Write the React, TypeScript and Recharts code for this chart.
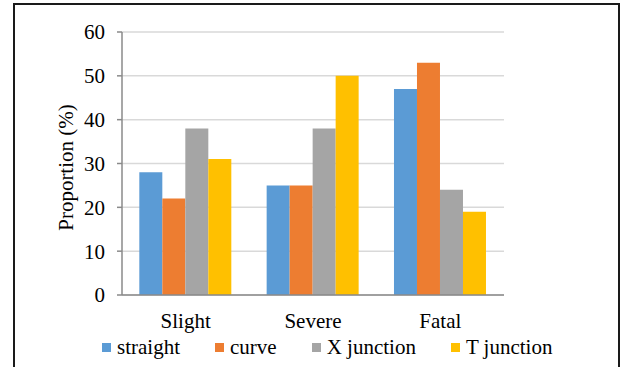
import React from "react";
import { BarChart, Bar, XAxis, YAxis, CartesianGrid } from "recharts";

// Crash severity categories and road-geometry series (proportion, %)
const categories = ["Slight", "Severe", "Fatal"];
const straight = [28, 25, 47];
const curve = [22, 25, 53];
const xJunction = [38, 38, 24];
const tJunction = [31, 50, 19];
const yTicks = [0, 10, 20, 30, 40, 50, 60];

const seriesNames = ["straight", "curve", "X junction", "T junction"];
const seriesKeys = ["straight", "curve", "xJunction", "tJunction"];
const seriesColors = ["#5B9BD5", "#ED7D31", "#A5A5A5", "#FFC000"];

const data = categories.map((c, i) => ({
  category: c,
  straight: straight[i],
  curve: curve[i],
  xJunction: xJunction[i],
  tJunction: tJunction[i],
}));

const FONT = "'Liberation Serif', 'DejaVu Serif', serif";
const AXIS_COLOR = "#8A8A8A";

const LegendRow = () => (
  <div
    style={{
      position: "absolute",
      left: 102,
      top: 337,
      display: "flex",
      alignItems: "center",
      gap: 35,
      fontFamily: FONT,
      fontSize: 21,
      lineHeight: "21px",
      color: "#000",
      whiteSpace: "nowrap",
    }}
  >
    {seriesNames.map((name, i) => (
      <div key={name} style={{ display: "flex", alignItems: "center" }}>
        <span
          style={{
            display: "inline-block",
            width: 9,
            height: 9,
            background: seriesColors[i],
            marginRight: 6,
          }}
        />
        <span>{name}</span>
      </div>
    ))}
  </div>
);

const YLabel = (props: any) => {
  const vb = props.viewBox || {};
  const x = 73;
  const y = (vb.y ?? 0) + (vb.height ?? 0) / 2 + 4;
  return (
    <text
      x={x}
      y={y}
      transform={`rotate(-90, ${x}, ${y})`}
      textAnchor="middle"
      style={{ fontFamily: FONT, fontSize: 21 }}
      fill="#000"
    >
      Proportion (%)
    </text>
  );
};

export default function App() {
  return (
    <div
      style={{
        position: "absolute",
        left: 0,
        top: 0,
        width: 627,
        height: 367,
        background: "#fff",
        overflow: "hidden",
        fontFamily: FONT,
      }}
    >
      <div
        style={{
          position: "absolute",
          left: 13,
          top: 3,
          width: 607,
          height: 420,
          border: "2px solid #1a1a1a",
          boxSizing: "border-box",
        }}
      />
      <div style={{ position: "absolute", left: 0, top: 0 }}>
        <BarChart
          width={627}
          height={367}
          data={data}
          margin={{ top: 32, right: 123, left: 0, bottom: 42 }}
          barCategoryGap="13.6%"
          barGap={0}
          style={{ fontFamily: FONT }}
        >
          <CartesianGrid vertical={false} stroke="#D9D9D9" strokeWidth={1.5} />
          <XAxis
            dataKey="category"
            height={30}
            tickLine={false}
            tickSize={0}
            tickMargin={18}
            axisLine={{ stroke: AXIS_COLOR, strokeWidth: 1.5 }}
            tick={{ fontFamily: FONT, fontSize: 21, fill: "#000" }}
          />
          <YAxis
            width={122}
            domain={[0, 60]}
            ticks={yTicks}
            interval={0}
            tickSize={5}
            tickMargin={12}
            axisLine={{ stroke: AXIS_COLOR, strokeWidth: 1.5 }}
            tickLine={{ stroke: AXIS_COLOR, strokeWidth: 1.5 }}
            tick={{ fontFamily: FONT, fontSize: 21, fill: "#000" }}
            label={<YLabel />}
          />
          {seriesKeys.map((k, i) => (
            <Bar
              key={k}
              dataKey={k}
              name={seriesNames[i]}
              fill={seriesColors[i]}
              isAnimationActive={false}
            />
          ))}
        </BarChart>
      </div>
      <LegendRow />
    </div>
  );
}
